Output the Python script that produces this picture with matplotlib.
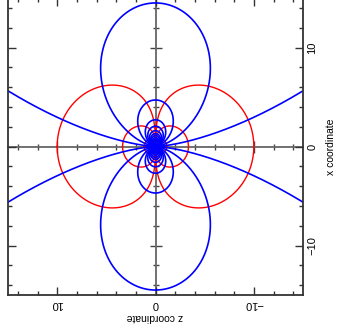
import numpy as np
import matplotlib
matplotlib.use("Agg")
import matplotlib.pyplot as plt

# === DATA ===
# field lines of a dipole along z: r = L * sin^2(theta)
FIELD_L = [130.0, 14.5, 4.7, 2.7, 2.05, 1.6, 1.3, 1.1, 0.9, 0.75, 0.6, 0.45, 0.3, 0.2]
# equipotentials: r^2 = C * |cos(theta)|, given here as sqrt(C) = reach along z
EQUI_REACH = [10.0, 3.35, 1.15, 0.4]

Z_TICKS = [-10, 0, 10]
X_TICKS = [-10, 0, 10]
Z_LIM = (15, -15)     # horizontal axis runs reversed
X_LIM = (-15, 15)

plt.rcParams['font.family'] = ['Liberation Sans', 'DejaVu Sans']

theta = np.linspace(0, 2 * np.pi, 4001)

fig = plt.figure(figsize=(3.37, 3.28), dpi=100)
rect = [8 / 337, 33 / 328, 295 / 337, 297 / 328]

# --- axis lines through zero (overlay axes, below the curves) ---
ax0 = fig.add_axes(rect, zorder=0)
ax0.patch.set_visible(False)
ax0.set_xlim(*Z_LIM)
ax0.set_ylim(*X_LIM)
for side in ['left', 'bottom']:
    ax0.spines[side].set_position(('data', 0))
    ax0.spines[side].set_color('#666666')
    ax0.spines[side].set_linewidth(1.3)
for side in ['right', 'top']:
    ax0.spines[side].set_visible(False)
ax0.set_xticks(Z_TICKS)
ax0.set_yticks(X_TICKS)
ax0.set_xticks(np.arange(-14, 15, 2), minor=True)
ax0.set_yticks(np.arange(-14, 15, 2), minor=True)
ax0.tick_params(which='both', direction='inout', colors='#444444',
                labelbottom=False, labelleft=False, width=1.0)
ax0.tick_params(which='major', length=8)
ax0.tick_params(which='minor', length=5)

ax = fig.add_axes(rect, zorder=1)
ax.patch.set_alpha(0)

# --- equipotentials (red) ---
for reach in EQUI_REACH:
    r = np.sqrt(reach ** 2 * np.abs(np.cos(theta)))
    ax.plot(r * np.cos(theta), r * np.sin(theta), color='#ff0000', lw=1.0)

# --- field lines (blue) ---
for L in FIELD_L:
    r = L * np.sin(theta) ** 2
    ax.plot(r * np.cos(theta), r * np.sin(theta), color='#0000ff', lw=1.2)

ax.set_xlim(*Z_LIM)
ax.set_ylim(*X_LIM)

for side in ax.spines:
    ax.spines[side].set_color('#333333')
    ax.spines[side].set_linewidth(1.3)

ax.set_xticks(Z_TICKS)
ax.set_yticks(X_TICKS)
ax.set_xticks(np.arange(-14, 15, 2), minor=True)
ax.set_yticks(np.arange(-14, 15, 2), minor=True)
ax.set_xticklabels([str(t).replace('-', '\u2212') for t in Z_TICKS])
ax.set_yticklabels([str(t).replace('-', '\u2212') for t in X_TICKS])
ax.yaxis.tick_right()
ax.tick_params(which='both', direction='in', top=True, bottom=True,
               left=True, right=True, colors='#333333', width=1.0,
               labelcolor='black', labelsize=8)
ax.tick_params(which='major', length=6)
ax.tick_params(which='minor', length=3)
ax.tick_params(axis='x', labelrotation=180, pad=3)
ax.tick_params(axis='y', labelrotation=90, pad=3, labelleft=False, labelright=True)
for lbl in ax.get_yticklabels():
    lbl.set_verticalalignment('center')
    lbl.set_horizontalalignment('left')

fig.text(155 / 337, 1 - 316.5 / 328, 'z coordinate', rotation=180,
         ha='center', va='center', fontsize=7.5)
fig.text(330.5 / 337, 1 - 147 / 328, 'x coordinate', rotation=90,
         ha='center', va='center', fontsize=7.5)

fig.savefig('out.png', dpi=100)
